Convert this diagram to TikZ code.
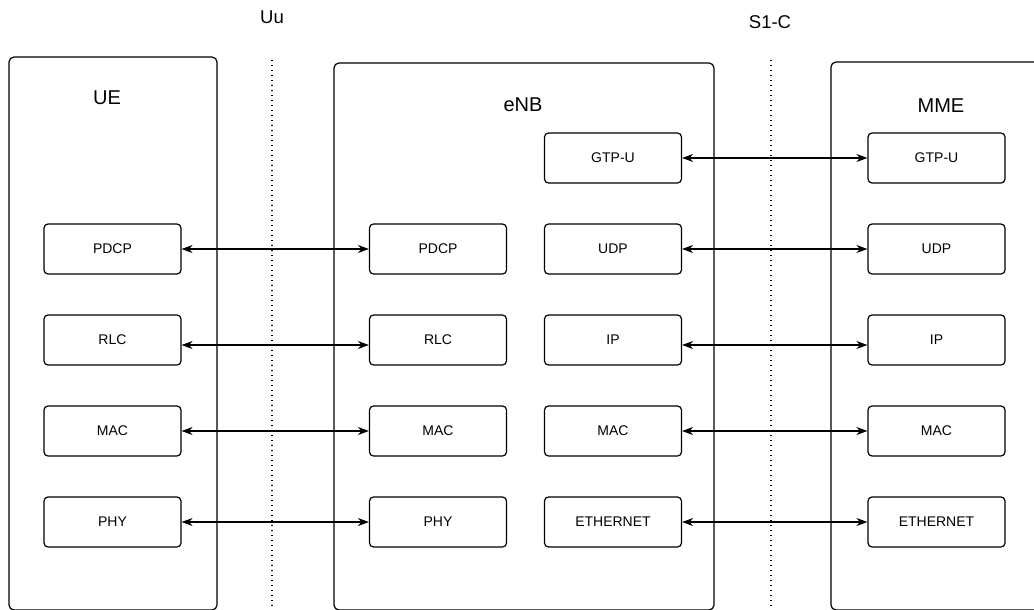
\documentclass[tikz,border=0pt]{standalone}
\usepackage{fontspec}
\setmainfont{Liberation Sans}
\usetikzlibrary{arrows.meta}
\begin{document}
\begin{tikzpicture}[x=1pt,y=-1pt,
  container/.style={draw,line width=1.2pt,rounded corners=5pt},
  layerbox/.style={draw,line width=1.2pt,rounded corners=4pt,minimum width=137pt,minimum height=50pt,inner sep=0pt,font=\fontsize{14}{16}\selectfont},
  title/.style={font=\fontsize{20}{24}\selectfont},
  iface/.style={font=\fontsize{18.5}{22}\selectfont},
  sep/.style={line width=1.2pt,dash pattern=on 1.4pt off 3.6pt},
  arr/.style={line width=1.3pt,{Stealth[length=11pt,width=8pt]}-{Stealth[length=11pt,width=8pt]}}]
\useasboundingbox (0,0) rectangle (1034,610);
\fill[white] (0,0) rectangle (1034,610);
% containers
\draw[container] (9,57) rectangle (217,610);
\draw[container] (334,63) rectangle (714,610);
\draw[container] (831,62) rectangle (1060,610);
\node[title] (uelbl) at (107,98) {UE};
\node[title] (enblbl) at (523,105) {eNB};
\node[title] (mmelbl) at (941,106) {MME};
% interfaces
\coordinate (uutop) at (272,60);
\coordinate (uubot) at (272,610);
\coordinate (s1top) at (771,60);
\coordinate (s1bot) at (771,610);
\draw[sep] (uutop) -- (uubot);
\draw[sep] (s1top) -- (s1bot);
\node[iface] (uu) at (272,17) {Uu};
\node[iface] (s1c) at (770,22) {S1-C};
% UE
\node[layerbox] (uepdcp) at (112.5,249) {PDCP};
\node[layerbox] (uerlc) at (112.5,340) {RLC};
\node[layerbox] (uemac) at (112.5,431) {MAC};
\node[layerbox] (uephy) at (112.5,522) {PHY};
% eNB left
\node[layerbox] (enbpdcp) at (438,249) {PDCP};
\node[layerbox] (enbrlc) at (438,340) {RLC};
\node[layerbox] (enbmac) at (438,431) {MAC};
\node[layerbox] (enbphy) at (438,522) {PHY};
% eNB right
\node[layerbox] (enbgtp) at (613,158) {GTP-U};
\node[layerbox] (enbudp) at (613,249) {UDP};
\node[layerbox] (enbip) at (613,340) {IP};
\node[layerbox] (enbmac2) at (613,431) {MAC};
\node[layerbox] (enbeth) at (613,522) {ETHERNET};
% MME
\node[layerbox] (mmegtp) at (936.5,158) {GTP-U};
\node[layerbox] (mmeudp) at (936.5,249) {UDP};
\node[layerbox] (mmeip) at (936.5,340) {IP};
\node[layerbox] (mmemac) at (936.5,431) {MAC};
\node[layerbox] (mmeeth) at (936.5,522) {ETHERNET};
% arrows
\draw[arr] (uepdcp.east) -- (enbpdcp.west);
\draw[arr] ([yshift=-5pt]uerlc.east) -- ([yshift=-5pt]enbrlc.west);
\draw[arr] (uemac.east) -- (enbmac.west);
\draw[arr] (uephy.east) -- (enbphy.west);
\draw[arr] (enbgtp.east) -- (mmegtp.west);
\draw[arr] (enbudp.east) -- (mmeudp.west);
\draw[arr] ([yshift=-5pt]enbip.east) -- ([yshift=-5pt]mmeip.west);
\draw[arr] (enbmac2.east) -- (mmemac.west);
\draw[arr] (enbeth.east) -- (mmeeth.west);
\end{tikzpicture}
\end{document}
